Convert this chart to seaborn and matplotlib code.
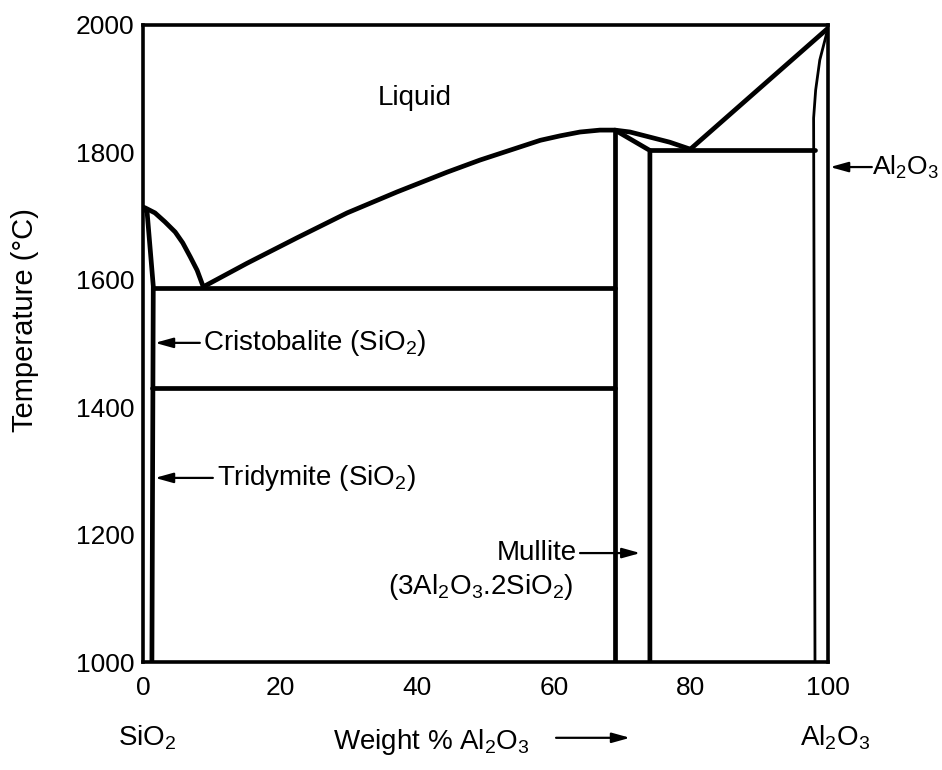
"""SiO2-Al2O3 phase diagram, redrawn with seaborn line plots."""
import matplotlib
matplotlib.use("Agg")
import matplotlib.pyplot as plt
import pandas as pd
import seaborn as sns
from matplotlib.transforms import blended_transform_factory

# Phase boundaries (x: wt% Al2O3, t: deg C)
liq_sio2_x = [0, 0.3, 1.75, 3.2, 4.7, 5.8, 6.9, 7.9, 8.8]
liq_sio2_t = [1714, 1713, 1705, 1691, 1675, 1658, 1636, 1615, 1589]
liq_mullite_x = [8.8, 15.2, 22.5, 29.8, 37.1, 44.4, 49.2, 58.0, 60.9, 63.8,
                 66.7, 68.9, 71.1, 74.0, 76.9, 79.9]
liq_mullite_t = [1589, 1626, 1666, 1705, 1738, 1769, 1788, 1819, 1826, 1832,
                 1835, 1835, 1832, 1824, 1816, 1805]
liq_al2o3_x = [79.9, 100.0]
liq_al2o3_t = [1805, 1995]
sol_sio2_x = [0, 0.6, 1.5, 1.3]
sol_sio2_t = [1714, 1706, 1590, 1000]
mullite_left_x = [68.9, 68.9]
mullite_left_t = [1000, 1835]
mullite_right_x = [74.0, 74.0, 68.9]
mullite_right_t = [1000, 1803, 1835]
eutectic_sio2_x = [1.5, 68.9]
eutectic_sio2_t = [1587, 1587]
cristo_trid_x = [1.3, 68.9]
cristo_trid_t = [1430, 1430]
eutectic_al2o3_x = [74.0, 98.1]
eutectic_al2o3_t = [1803, 1803]
al2o3_ss_x = [100.0, 98.8, 98.2, 97.9, 98.1]
al2o3_ss_t = [1995, 1945, 1898, 1854, 1000]

x_ticks = [0, 20, 40, 60, 80, 100]
y_ticks = [1000, 1200, 1400, 1600, 1800, 2000]


def segments(named):
    rows = []
    for name, (xs, ts) in named.items():
        for i, (x, t) in enumerate(zip(xs, ts)):
            rows.append({"segment": name, "order": i, "wt_al2o3": x, "temp": t})
    return pd.DataFrame(rows)


thick = segments({
    "liq_sio2": (liq_sio2_x, liq_sio2_t),
    "liq_mullite": (liq_mullite_x, liq_mullite_t),
    "liq_al2o3": (liq_al2o3_x, liq_al2o3_t),
    "sol_sio2": (sol_sio2_x, sol_sio2_t),
    "mullite_left": (mullite_left_x, mullite_left_t),
    "mullite_right": (mullite_right_x, mullite_right_t),
    "eut_sio2": (eutectic_sio2_x, eutectic_sio2_t),
    "cristo_trid": (cristo_trid_x, cristo_trid_t),
    "eut_al2o3": (eutectic_al2o3_x, eutectic_al2o3_t),
})
thin = segments({"al2o3_ss": (al2o3_ss_x, al2o3_ss_t)})

sns.set_theme(style="white")
plt.rcParams["font.family"] = ["Liberation Sans", "DejaVu Sans"]
plt.rcParams["mathtext.fontset"] = "custom"
plt.rcParams["mathtext.rm"] = "Liberation Sans"
plt.rcParams["mathtext.it"] = "Liberation Sans"
plt.rcParams["mathtext.bf"] = "Liberation Sans:bold"

fig = plt.figure(figsize=(9.42, 7.70), dpi=100)
ax = fig.add_axes([143 / 942, 1 - 662 / 770, 685 / 942, 637 / 770])

sns.lineplot(data=thick, x="wt_al2o3", y="temp", units="segment", estimator=None,
             sort=False, color="black", lw=3.4, ax=ax, legend=False)
sns.lineplot(data=thin, x="wt_al2o3", y="temp", units="segment", estimator=None,
             sort=False, color="black", lw=2.0, ax=ax, legend=False)

ax.set_xlim(0, 100)
ax.set_ylim(1000, 2000)
ax.set_xticks(x_ticks)
ax.set_yticks(y_ticks)
ax.tick_params(axis="both", direction="in", length=15, width=1.8, color="black",
               labelsize=19, labelcolor="black")
ax.tick_params(axis="y", pad=6)
ax.tick_params(axis="x", pad=10)
for sp in ax.spines.values():
    sp.set_visible(True)
    sp.set_color("black")
    sp.set_linewidth(2.6)

ax.set_ylabel("Temperature (°C)", fontsize=21, color="black")
ax.yaxis.set_label_coords(-0.152, 0.537)
ax.set_xlabel(r"Weight % Al$_2$O$_3$", fontsize=20, color="black")
ax.xaxis.set_label_coords(0.421, -0.102)

arrow = dict(arrowstyle="-|>,head_length=0.9,head_width=0.25", color="black",
             lw=1.6, mutation_scale=12, shrinkA=0, shrinkB=0)
lab = dict(fontsize=20, color="black", va="center")

ax.text(39.7, 1885, "Liquid", ha="center", **lab)

ax.annotate("", xy=(1.75, 1501), xytext=(8.3, 1501), arrowprops=arrow)
ax.text(8.8, 1501, r"Cristobalite (SiO$_2$)", ha="left", **lab)

ax.annotate("", xy=(1.75, 1289), xytext=(10.2, 1289), arrowprops=arrow)
ax.text(10.8, 1289, r"Tridymite (SiO$_2$)", ha="left", **lab)

ax.annotate("", xy=(72.6, 1171), xytext=(63.8, 1171), arrowprops=arrow)
ax.text(63.3, 1171, "Mullite", ha="right", **lab)
ax.text(62.8, 1118, r"(3Al$_2$O$_3$.2SiO$_2$)", ha="right", **lab)

ax.annotate("", xy=(100.3, 1777), xytext=(106.4, 1777), arrowprops=arrow,
            annotation_clip=False)
ax.text(106.4, 1777, r"Al$_2$O$_3$", ha="left", fontsize=19, color="black",
        va="center")

below = blended_transform_factory(ax.transData, ax.transAxes)
ax.text(0.6, -0.119, r"SiO$_2$", ha="center", transform=below, **lab)
ax.text(101.0, -0.119, r"Al$_2$O$_3$", ha="center", transform=below, **lab)
ax.annotate("", xy=(71.1, -0.119), xytext=(60.3, -0.119), xycoords=below,
            textcoords=below, arrowprops=arrow, annotation_clip=False)

fig.savefig("out.png", dpi=100, facecolor="white")
